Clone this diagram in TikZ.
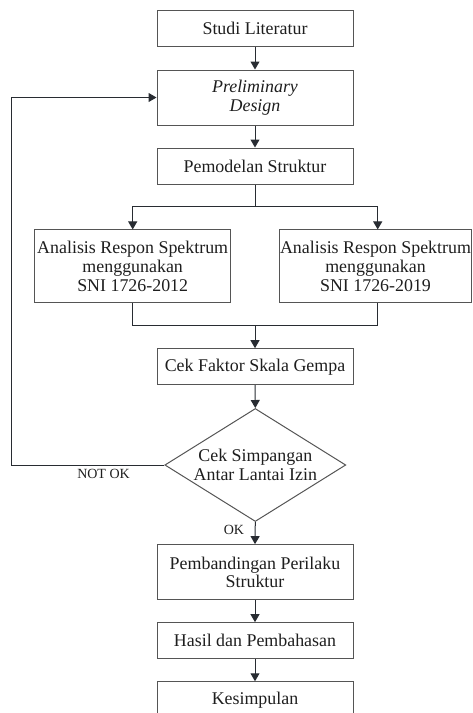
\documentclass[tikz,border=0pt]{standalone}
\usepackage{fontspec}
\setmainfont{Liberation Serif}
\usetikzlibrary{shapes.geometric,arrows.meta}
\definecolor{linec}{RGB}{40,44,50}
\definecolor{boxc}{RGB}{85,85,85}
\definecolor{txtc}{RGB}{30,30,30}
\tikzset{
  box/.style={draw=boxc, line width=1pt, rectangle, inner sep=0pt, align=center,
    text=txtc, font=\fontsize{17.9}{18.7}\selectfont},
  dec/.style={draw=boxc, line width=1pt, diamond, inner sep=0pt, aspect=1.6, align=center,
    minimum width=181pt, minimum height=113pt, text=txtc, font=\fontsize{17.9}{18.7}\selectfont},
  lbl/.style={inner sep=0pt, text=txtc, font=\fontsize{14}{16}\selectfont},
  conn/.style={draw=linec, line width=1pt},
  arr/.style={conn, -{Triangle[width=9pt,length=8pt]}},
}
\begin{document}
\begin{tikzpicture}[x=1pt,y=-1pt]
\clip (0,0) rectangle (472,713);
\node[box, minimum width=196pt, minimum height=36.3pt] (studi) at (255,28.8) {Studi Literatur};
\node[box, minimum width=196pt, minimum height=55pt] (prelim) at (255,97.5) {\itshape Preliminary\\\itshape Design};
\node[box, minimum width=196pt, minimum height=36pt] (pemod) at (255,166) {Pemodelan Struktur};
\node[box, minimum width=196pt, minimum height=72.7pt] (left) at (132.7,266.3) {Analisis Respon Spektrum\\menggunakan\\SNI 1726-2012};
\node[box, minimum width=192pt, minimum height=72.7pt] (right) at (375.5,266.3) {Analisis Respon Spektrum\\menggunakan\\SNI 1726-2019};
\node[box, minimum width=196pt, minimum height=36pt] (cek) at (255,366.7) {Cek Faktor Skala Gempa};
\node[dec] (dia) at (255.3,465) {Cek Simpangan\\Antar Lantai Izin};
\node[box, minimum width=196pt, minimum height=55.3pt] (banding) at (255,572.3) {Pembandingan Perilaku\\Struktur};
\node[box, minimum width=196pt, minimum height=36.3pt] (hasil) at (255,640.8) {Hasil dan Pembahasan};
\node[box, minimum width=196pt, minimum height=36.3pt] (kes) at (255,699.9) {Kesimpulan};
\coordinate (br) at (255,206.7);
\coordinate (mg) at (255,325.3);
\coordinate (loopx) at (11,465);
\draw[arr] (studi) -- (prelim);
\draw[arr] (prelim) -- (pemod);
\draw[conn] (pemod) -- (br);
\draw[arr] (br) -| (left.north);
\draw[arr] (br) -| ([xshift=2.2pt]right.north);
\draw[conn] (left.south) |- (mg);
\draw[conn] ([xshift=2.2pt]right.south) |- (mg);
\draw[arr] (mg) -- (cek.north);
\draw[arr] (cek) -- (dia.north);
\draw[arr] (dia.south) -- (banding.north);
\draw[arr] (banding) -- (hasil);
\draw[arr] (hasil) -- (kes);
\draw[arr] (dia.west) -- (loopx) |- (prelim.west);
\node[lbl] (notok) at (103.5,473.8) {NOT OK};
\node[lbl] (ok) at (234,530) {OK};
\end{tikzpicture}
\end{document}
